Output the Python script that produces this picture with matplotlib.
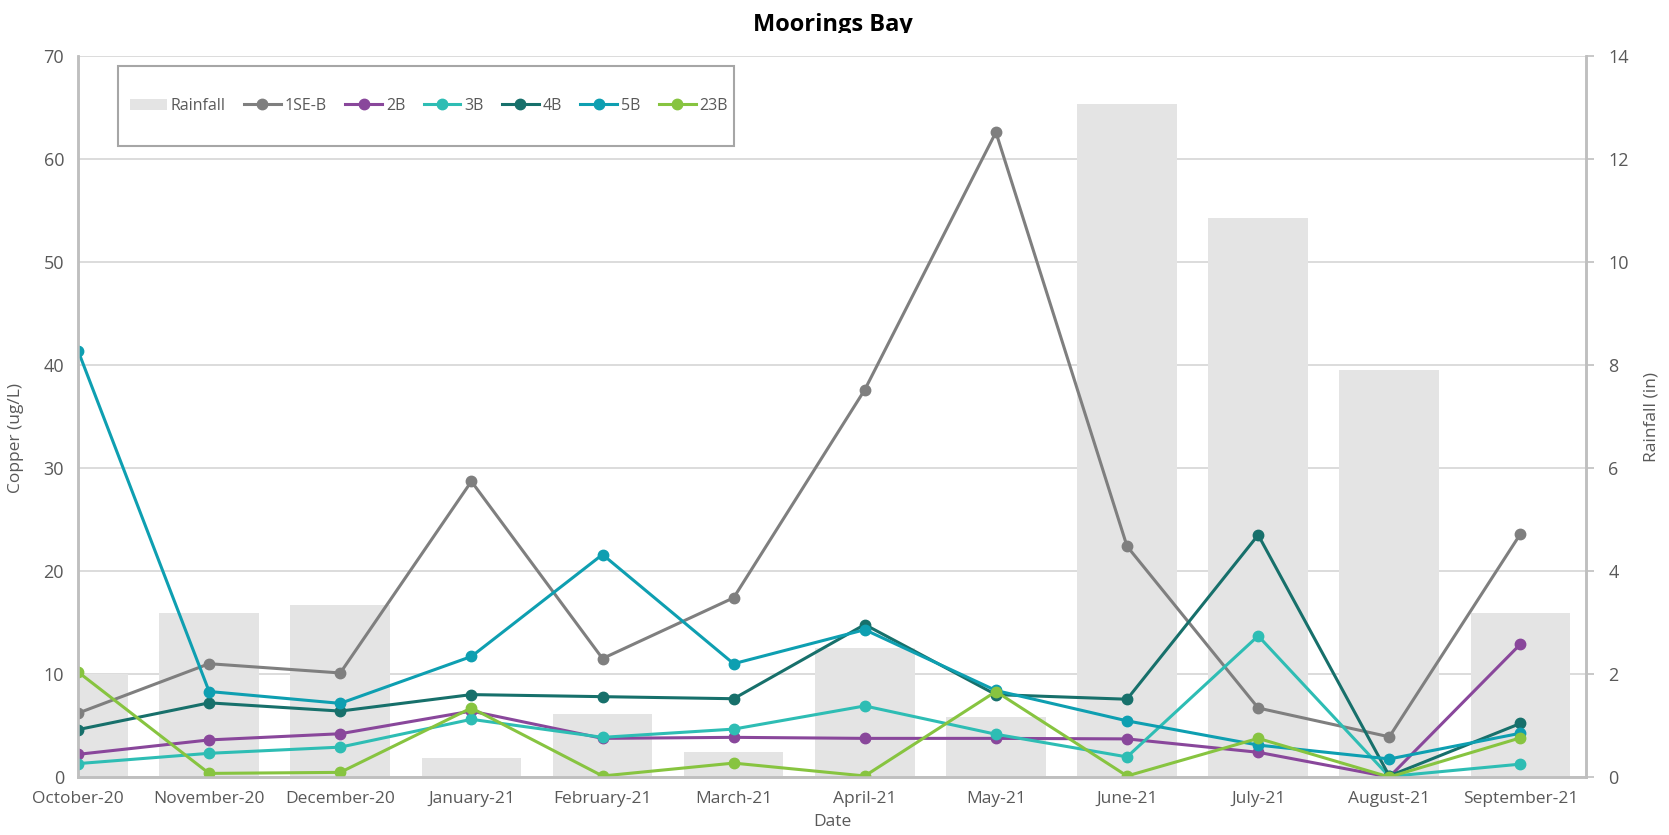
import matplotlib
matplotlib.use('Agg')
import matplotlib.pyplot as plt
from matplotlib.patches import Patch, Rectangle
from matplotlib.lines import Line2D
from matplotlib.transforms import Bbox, TransformedBbox
import numpy as np

# data
months = ['October-20', 'November-20', 'December-20', 'January-21', 'February-21', 'March-21',
          'April-21', 'May-21', 'June-21', 'July-21', 'August-21', 'September-21']
rainfall = [2.0, 3.19, 3.34, 0.36, 1.22, 0.48, 2.51, 1.17, 13.07, 10.85, 7.9, 3.18]

cu_1seb = [6.2, 11.0, 10.1, 28.7, 11.5, 17.4, 37.6, 62.6, 22.4, 6.7, 3.9, 23.6]
cu_2b = [2.2, 3.6, 4.2, 6.4, 3.75, 3.85, 3.75, 3.75, 3.7, 2.4, 0.0, 12.9]
cu_3b = [1.3, 2.3, 2.9, 5.6, 3.85, 4.65, 6.9, 4.15, 1.95, 13.7, 0.05, 1.25]
cu_4b = [4.6, 7.2, 6.4, 8.0, 7.8, 7.6, 14.8, 8.0, 7.55, 23.5, 0.1, 5.2]
cu_5b = [41.4, 8.3, 7.15, 11.7, 21.6, 11.0, 14.3, 8.4, 5.45, 3.1, 1.75, 4.25]
cu_23b = [10.2, 0.35, 0.45, 6.7, 0.1, 1.35, 0.1, 8.3, 0.1, 3.75, 0.0, 3.8]

series_names = ['1SE-B', '2B', '3B', '4B', '5B', '23B']
series_vals = [cu_1seb, cu_2b, cu_3b, cu_4b, cu_5b, cu_23b]
series_cols = ['#7f7f7f', '#89479b', '#2ebdb4', '#17706b', '#0e9fb1', '#87c440']

txt_col = '#595959'
axis_col = '#bfbfbf'
grid_col = '#d9d9d9'
plt.rcParams['font.family'] = ['Open Sans', 'DejaVu Sans']

W, H = 1669, 835
fig = plt.figure(figsize=(W / 100, H / 100), dpi=100)
fig.patch.set_facecolor('white')

# axes box in pixels: left 78, right 1586, bottom 777, top 56
ax = fig.add_axes([78 / W, (H - 777) / H, (1586 - 78) / W, (777 - 56) / H])
ax2 = ax.twinx()

x = np.arange(len(months))

# rainfall bars go on the bottom axes together with the grid
ax.set_zorder(2)
ax2.set_zorder(1)
ax.patch.set_visible(False)
ax2.set_axisbelow(True)
ax2.bar(x, rainfall, width=0.76, color='#e4e4e4', zorder=2)
ax2.set_ylim(0, 14)
ax2.set_yticks(np.arange(0, 15, 2))
ax2.grid(True, color=grid_col, linewidth=1.3, zorder=0)
ax2.set_xticks(x)

for name, vals, col in zip(series_names, series_vals, series_cols):
    ax.plot(x, vals, color=col, linewidth=2.2, marker='o', markersize=7.5, label=name)

ax.set_xlim(0, 11.5)
ax.set_ylim(0, 70)
ax.set_yticks(np.arange(0, 71, 10))
ax.set_xticks(x)
ax.set_xticklabels(months, fontsize=12.5, color=txt_col)
ax.tick_params(axis='x', length=0, pad=10)
ax.tick_params(axis='y', length=0, pad=10, labelsize=13, labelcolor=txt_col)
ax2.tick_params(axis='y', direction='out', length=6, width=1.2, color=axis_col,
                pad=10, labelsize=13, labelcolor=txt_col)
ax2.tick_params(axis='x', length=0)

for a in (ax, ax2):
    a.spines['top'].set_visible(False)
    for s in ('left', 'right', 'bottom'):
        a.spines[s].set_color(axis_col)
        a.spines[s].set_linewidth(1.8)

ax.set_xlabel('Date', fontsize=12.5, color=txt_col)
ax.xaxis.set_label_coords(0.5, -0.052)
ax.set_ylabel('Copper (ug/L)', fontsize=12.5, color=txt_col)
ax.yaxis.set_label_coords(-0.036, 0.47)
ax2.set_ylabel('Rainfall (in)', fontsize=12.5, color=txt_col)
ax2.yaxis.set_label_coords(1.038, 0.5)

# legend: frame drawn separately so it can be taller than the entries
frame = Rectangle((118 / W, 1 - 146 / H), (734 - 118) / W, 80 / H, transform=fig.transFigure,
                  facecolor='white', edgecolor='#a6a6a6', linewidth=1.5, zorder=4,
                  clip_on=False)
ax.add_artist(frame)
handles = [Patch(facecolor='#e4e4e4', edgecolor='none')]
for col in series_cols:
    handles.append(Line2D([], [], color=col, linewidth=2.2, marker='o', markersize=7.5))
labels = ['Rainfall'] + series_names
leg = ax.legend(handles, labels, ncol=7, loc='center',
                bbox_to_anchor=(130 / W, 1 - 126 / H, (728 - 130) / W, 40 / H),
                bbox_transform=fig.transFigure, mode='expand', borderaxespad=0,
                borderpad=0, handlelength=2.3, handletextpad=0.25, columnspacing=0.6,
                prop={'size': 11.5}, frameon=False)
leg.set_zorder(6)
for t in leg.get_texts():
    t.set_color(txt_col)

# title, clipped at the bottom like in the reference
title = fig.text(833 / W, 1 - 31 / H, 'Moorings Bay', ha='center', va='baseline',
                 fontsize=17, fontweight='bold', color='black')
title.set_clip_box(TransformedBbox(Bbox([[0, 1 - 33 / H], [1, 1]]), fig.transFigure))
title.set_clip_on(True)

fig.savefig('out.png', dpi=100)
